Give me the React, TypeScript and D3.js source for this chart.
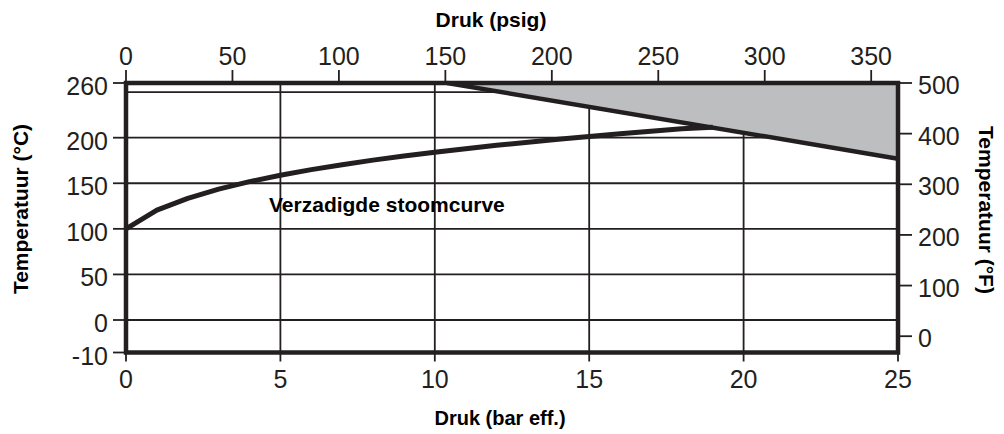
import React from 'react'
import * as d3 from 'd3'

// pressure ticks
const barTicks = [0, 5, 10, 15, 20, 25]
const psigTicks = [0, 50, 100, 150, 200, 250, 300, 350]
const barGrid = [5, 10, 15, 20]

// temperature ticks
const celsiusTicks = [-10, 0, 50, 100, 150, 200, 260]
const celsiusGrid = [0, 50, 100, 150, 200, 250]
const fahrenheitTicks = [0, 100, 200, 300, 400, 500]

// saturated steam curve (bar gauge -> degC)
const steamBar = [0, 1, 2, 3, 4, 5, 6, 7, 8, 9, 10, 12, 14, 16, 18, 19]
const steamC = [100, 120.5, 133.5, 143.6, 151.8, 158.8, 165, 170.4, 175.4, 179.9, 184.1, 191.6, 198.3, 204.3, 209.8, 211.5]

// superheat limit (grey area above this line)
const limitBar = [10.4, 25]
const limitC = [260, 177]

const INK = '#231f20'
const FONT = 'Liberation Sans, Arial, Helvetica, sans-serif'

export default function App() {
    const width = 1004
    const height = 434
    const left = 126, right = 898, top = 83, bottom = 352.5

    const x = d3.scaleLinear().domain([0, 25]).range([left, right])
    const xPsig = d3.scaleLinear().domain([0, 25 * 14.5038]).range([left, right])

    // the -10 tick is just pinned to the bottom frame
    const y = d3.scaleLinear().domain([-10, 0, 260]).range([bottom, 320, top])
    const yLin = d3.scaleLinear().domain([0, 260]).range([320, top])
    const yF = d3.scaleLinear().domain([0, 500]).range([yLin((0 - 32) / 1.8), yLin((500 - 32) / 1.8)])

    const steam = steamBar.map((b, i) => [b, steamC[i]] as [number, number])
    const line = d3.line<[number, number]>()
        .x(d => x(d[0]))
        .y(d => y(d[1]))
        .curve(d3.curveLinear)

    const limit = limitBar.map((b, i) => [b, limitC[i]] as [number, number])
    const area = [...limit, [25, 260] as [number, number]]

    const tickFont = { fontFamily: FONT, fontSize: 25, fill: INK }
    const titleFont = { fontFamily: FONT, fontSize: 20, fontWeight: 'bold' as const, fill: '#000' }

    return (
        <svg width={width} height={height} style={{ position: 'absolute', left: 0, top: 0, background: '#fff' }}>
            {/* grid */}
            <g stroke={INK} strokeWidth={1.8}>
                {barGrid.map(b => (
                    <line key={'gx' + b} x1={x(b)} x2={x(b)} y1={top} y2={bottom} />
                ))}
                {celsiusGrid.map(c => (
                    <line key={'gy' + c} x1={left} x2={right} y1={y(c)} y2={y(c)} />
                ))}
            </g>

            {/* grey area covers the grid */}
            <path d={line(area) + 'Z'} fill="#bcbec0" stroke="none" />

            {/* curves */}
            <path d={line(limit) || ''} fill="none" stroke={INK} strokeWidth={4.5} />
            <path d={line(steam) || ''} fill="none" stroke={INK} strokeWidth={5} strokeLinejoin="round" />

            {/* frame */}
            <rect x={left} y={top} width={right - left} height={bottom - top} fill="none" stroke={INK} strokeWidth={4.5} />

            {/* bottom axis: bar */}
            <g>
                {barTicks.map(b => (
                    <g key={'b' + b}>
                        <line x1={x(b)} x2={x(b)} y1={bottom} y2={bottom + 9} stroke={INK} strokeWidth={1.8} />
                        <text x={x(b)} y={388} textAnchor="middle" {...tickFont}>{b}</text>
                    </g>
                ))}
            </g>

            {/* top axis: psig */}
            <g>
                {psigTicks.map(p => (
                    <g key={'p' + p}>
                        <line x1={xPsig(p)} x2={xPsig(p)} y1={top} y2={top - 13} stroke={INK} strokeWidth={1.8} />
                        <text x={xPsig(p)} y={65} textAnchor="middle" {...tickFont}>{p}</text>
                    </g>
                ))}
            </g>

            {/* left axis: degC */}
            <g>
                {celsiusTicks.map(c => (
                    <g key={'c' + c}>
                        <line x1={left} x2={left - 13} y1={y(c)} y2={y(c)} stroke={INK} strokeWidth={1.8} />
                        <text x={108} y={y(c)} dy={12} textAnchor="end" {...tickFont}>{c}</text>
                    </g>
                ))}
            </g>

            {/* right axis: degF */}
            <g>
                {fahrenheitTicks.map(f => (
                    <g key={'f' + f}>
                        <line x1={right} x2={right + 14} y1={yF(f)} y2={yF(f)} stroke={INK} strokeWidth={1.8} />
                        <text x={918} y={yF(f)} dy={11} textAnchor="start" {...tickFont}>{f}</text>
                    </g>
                ))}
            </g>

            {/* titles */}
            <text x={491} y={27} textAnchor="middle" {...titleFont} fontSize={21}>Druk (psig)</text>
            <text x={500} y={425} textAnchor="middle" {...titleFont}>Druk (bar eff.)</text>
            <text transform="translate(28,209) rotate(-90)" textAnchor="middle" {...titleFont} fontSize={21}>Temperatuur (°C)</text>
            <text transform="translate(979,210) rotate(90)" textAnchor="middle" {...titleFont} fontSize={21}>Temperatuur (°F)</text>

            <text x={269} y={212} {...titleFont} fontSize={21}>Verzadigde stoomcurve</text>
        </svg>
    )
}
